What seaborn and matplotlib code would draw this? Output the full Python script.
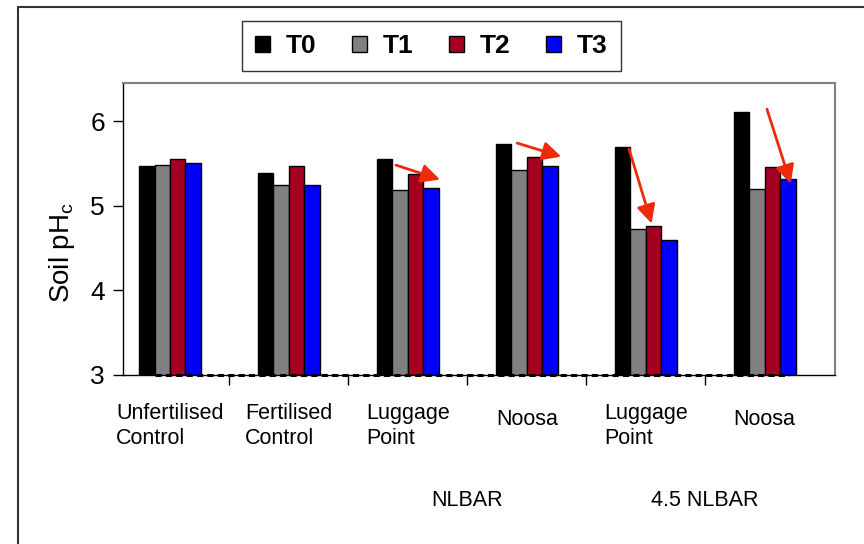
import pandas as pd
import matplotlib.pyplot as plt
import seaborn as sns
from matplotlib.lines import Line2D
from matplotlib.patches import Patch

sns.set_style("ticks")
plt.rcParams['font.family'] = ['Liberation Sans', 'DejaVu Sans']
plt.rcParams['mathtext.default'] = 'regular'
plt.rcParams['text.color'] = 'black'
plt.rcParams['xtick.color'] = 'black'
plt.rcParams['ytick.color'] = 'black'
plt.rcParams['axes.labelcolor'] = 'black'

# --- data ---
sites = ["UC", "FC", "LP", "NO", "LP45", "NO45"]
site_labels = ["Unfertilised\nControl", "Fertilised\nControl", "Luggage\nPoint",
               "Noosa", "Luggage\nPoint", "Noosa"]
treatments = ["T0", "T1", "T2", "T3"]
t0 = [5.47, 5.39, 5.55, 5.73, 5.69, 6.11]
t1 = [5.48, 5.24, 5.18, 5.42, 4.72, 5.20]
t2 = [5.55, 5.47, 5.37, 5.58, 4.76, 5.46]
t3 = [5.51, 5.25, 5.21, 5.47, 4.60, 5.31]
colors = ["#000000", "#808080", "#A50021", "#0000FF"]

group_labels = ["NLBAR", "4.5 NLBAR"]
group_centers = [2.5, 4.5]

# red arrows (start -> end) in data units
arrows = [((1.90, 5.48), (2.27, 5.31)),
          ((2.92, 5.74), (3.29, 5.58)),
          ((3.86, 5.67), (4.05, 4.79)),
          ((5.02, 6.14), (5.22, 5.26))]

df = pd.DataFrame({
    "site": sites * 4,
    "treatment": [t for t in treatments for _ in sites],
    "ph": t0 + t1 + t2 + t3,
})

fig = plt.figure(figsize=(8.64, 5.44), dpi=100)
ax = fig.add_axes([123 / 864, 1 - 375 / 544, (835 - 123) / 864, (375 - 83) / 544])

sns.barplot(data=df, x="site", y="ph", hue="treatment", order=sites,
            hue_order=treatments, palette=colors, width=0.52, gap=0,
            saturation=1, edgecolor="black", linewidth=1, errorbar=None,
            legend=False, ax=ax)

ax.set_ylim(3, 6.45)
ax.set_xlim(-0.395, 5.592)
ax.set_yticks([3, 4, 5, 6])
ax.set_xticks([i + 0.5 for i in range(len(sites) - 1)])
ax.set_xticklabels([])
ax.set_xlabel("")
ax.set_ylabel("")
ax.tick_params(axis="y", labelsize=19, length=7, width=1, direction="out", pad=6)
ax.tick_params(axis="x", length=7, width=1, direction="out")

for side in ["top", "right"]:
    ax.spines[side].set_color("#808080")
    ax.spines[side].set_linewidth(1.5)
for side in ["left", "bottom"]:
    ax.spines[side].set_color("black")
    ax.spines[side].set_linewidth(1)

# dashed baseline under the bars
ax.plot([-0.126, 5.206], [3, 3], color="black", lw=2.2,
        ls=(0, (2, 1.4)), clip_on=False, zorder=1)

# category labels
xt = ax.get_xaxis_transform()
for i, lab in enumerate(site_labels):
    y = -0.095 if "\n" in lab else -0.115
    ax.text(i, y, lab, transform=xt, ha="center", va="top",
            multialignment="left", fontsize=15.5, linespacing=1.25)
for x, lab in zip(group_centers, group_labels):
    ax.text(x, -0.43, lab, transform=xt, ha="center", va="center", fontsize=15.5)

for start, end in arrows:
    ax.annotate("", xy=end, xytext=start,
                arrowprops=dict(arrowstyle="-|>", color="#EE2A0A", lw=2,
                                mutation_scale=28, shrinkA=0, shrinkB=0))

fig.text(62 / 864, 1 - 252 / 544, "Soil pH$_{c}$", rotation=90,
         ha="center", va="center", fontsize=20)

handles = [Patch(facecolor=c, edgecolor="black", lw=1) for c in colors]
leg = fig.legend(handles, treatments, loc="center", bbox_to_anchor=(0.4994, 0.9154),
                 ncol=4, frameon=True, fancybox=False, edgecolor="black",
                 prop=dict(weight="bold", size=19), handlelength=0.57,
                 handleheight=0.57, handletextpad=0.6, columnspacing=1.35,
                 borderpad=0.5)
leg.get_frame().set_linewidth(1)

# outer chart frame (left and top edges)
fig.add_artist(Line2D([18 / 864, 18 / 864], [0, 1 - 7 / 544],
                      transform=fig.transFigure, color="#333333", lw=1.5))
fig.add_artist(Line2D([18 / 864, 1], [1 - 7 / 544, 1 - 7 / 544],
                      transform=fig.transFigure, color="#333333", lw=1.5))

fig.savefig("out.png", dpi=100)
plt.close(fig)
